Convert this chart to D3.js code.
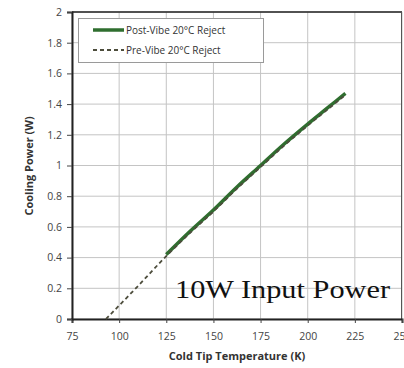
<!DOCTYPE html>
<html>
<head>
<meta charset="utf-8">
<script src="https://cdn.jsdelivr.net/npm/d3@7"></script>
<style>
  body { margin: 0; background: #fff; }
  svg { display: block; }
</style>
</head>
<body>
<div id="chart"></div>
<script>
// data
var postTemp = [125, 137.5, 150, 162.5, 175, 187.5, 200, 210, 220];
var postPower = [0.42, 0.57, 0.71, 0.86, 1.0, 1.14, 1.27, 1.37, 1.47];
var preTemp = [93, 110, 125, 137.5, 150, 162.5, 175, 187.5, 200, 210, 220];
var prePower = [0, 0.215, 0.41, 0.56, 0.70, 0.85, 0.99, 1.13, 1.26, 1.36, 1.46];
var xTicks = [75, 100, 125, 150, 175, 200, 225, 250];
var yTicks = [0, 0.2, 0.4, 0.6, 0.8, 1, 1.2, 1.4, 1.6, 1.8, 2];
var seriesNames = ["Post-Vibe 20°C Reject", "Pre-Vibe 20°C Reject"];

var width = 404, height = 368;
var margin = {top: 12, right: 2, bottom: 49, left: 72};

var svg = d3.select("#chart").append("svg")
    .attr("width", width)
    .attr("height", height);

var x = d3.scaleLinear().domain([75, 250]).range([margin.left, width - margin.right]);
var y = d3.scaleLinear().domain([0, 2]).range([height - margin.bottom, margin.top]);

// grid
svg.append("g").selectAll("line.v")
    .data(xTicks)
    .enter().append("line")
    .attr("x1", function(d) { return x(d); })
    .attr("x2", function(d) { return x(d); })
    .attr("y1", y(0)).attr("y2", y(2))
    .attr("stroke", "#c4c4c4").attr("stroke-width", 1);
svg.append("g").selectAll("line.h")
    .data(yTicks)
    .enter().append("line")
    .attr("x1", x(75)).attr("x2", x(250))
    .attr("y1", function(d) { return y(d); })
    .attr("y2", function(d) { return y(d); })
    .attr("stroke", "#c4c4c4").attr("stroke-width", 1);

// frame
svg.append("line").attr("x1", x(75)).attr("x2", x(250)).attr("y1", y(2)).attr("y2", y(2))
    .attr("stroke", "#222").attr("stroke-width", 1.5);
svg.append("line").attr("x1", x(250) - 0.5).attr("x2", x(250) - 0.5).attr("y1", y(2)).attr("y2", y(0))
    .attr("stroke", "#555").attr("stroke-width", 1);

// axes
var xAxis = d3.axisBottom(x).tickValues(xTicks).tickSize(4).tickFormat(d3.format("d"));
var yAxis = d3.axisLeft(y).tickValues(yTicks).tickSize(5).tickFormat(function(d) { return d3.format("")(d); });

var gx = svg.append("g")
    .attr("transform", "translate(0," + y(0) + ")")
    .call(xAxis);
var gy = svg.append("g")
    .attr("transform", "translate(" + x(75) + ",0)")
    .call(yAxis);

[gx, gy].forEach(function(g) {
  g.select(".domain").attr("stroke", "#222").attr("stroke-width", 2);
  g.selectAll(".tick line").attr("stroke", "#444");
  g.selectAll(".tick text")
    .attr("fill", "#444")
    .attr("font-family", "'Open Sans', 'Liberation Sans', sans-serif")
    .attr("font-size", "10.5px");
});
gx.selectAll(".tick text").attr("dy", "1.3em");
gy.selectAll(".tick text").attr("x", -10);

// axis titles
svg.append("text")
    .attr("x", (x(75) + x(250)) / 2)
    .attr("y", 360)
    .attr("text-anchor", "middle")
    .attr("font-family", "'Open Sans', 'Liberation Sans', sans-serif")
    .attr("font-weight", "bold")
    .attr("font-size", "11px")
    .attr("fill", "#333")
    .text("Cold Tip Temperature (K)");
svg.append("text")
    .attr("transform", "translate(33," + 166 + ") rotate(-90)")
    .attr("text-anchor", "middle")
    .attr("font-family", "'Open Sans', 'Liberation Sans', sans-serif")
    .attr("font-weight", "bold")
    .attr("font-size", "11px")
    .attr("fill", "#333")
    .text("Cooling Power (W)");

// lines
var line = d3.line()
    .x(function(d) { return x(d[0]); })
    .y(function(d) { return y(d[1]); })
    .curve(d3.curveMonotoneX);

var postData = postTemp.map(function(t, i) { return [t, postPower[i]]; });
var preData = preTemp.map(function(t, i) { return [t, prePower[i]]; });

svg.append("path")
    .datum(postData)
    .attr("d", line)
    .attr("fill", "none")
    .attr("stroke", "#2f6e2f")
    .attr("stroke-width", 3.5);
svg.append("path")
    .datum(preData)
    .attr("d", line)
    .attr("fill", "none")
    .attr("stroke", "#4d4d3c")
    .attr("stroke-width", 1.8)
    .attr("stroke-dasharray", "4,3");

// legend
var legend = svg.append("g");
legend.append("rect")
    .attr("x", 78.5).attr("y", 18.5)
    .attr("width", 185).attr("height", 44)
    .attr("fill", "#fff")
    .attr("stroke", "#9a9a9a");
var styles = [
  {stroke: "#2f6e2f", w: 3.5, dash: null},
  {stroke: "#4d4d3c", w: 1.8, dash: "4,3"}
];
seriesNames.forEach(function(name, i) {
  var yy = 30 + i * 20;
  legend.append("line")
    .attr("x1", 93).attr("x2", 124)
    .attr("y1", yy).attr("y2", yy)
    .attr("stroke", styles[i].stroke)
    .attr("stroke-width", styles[i].w)
    .attr("stroke-dasharray", styles[i].dash);
  legend.append("text")
    .attr("x", 126).attr("y", yy + 3.5)
    .attr("font-family", "'Open Sans', 'Liberation Sans', sans-serif")
    .attr("font-size", "10px")
    .attr("fill", "#333")
    .text(name);
});

// annotation
svg.append("text")
    .attr("x", 175).attr("y", 298)
    .attr("font-family", "'Liberation Serif', 'DejaVu Serif', serif")
    .attr("font-size", "25px")
    .attr("fill", "#111")
    .attr("textLength", 215)
    .attr("lengthAdjust", "spacingAndGlyphs")
    .text("10W Input Power");
</script>
</body>
</html>
